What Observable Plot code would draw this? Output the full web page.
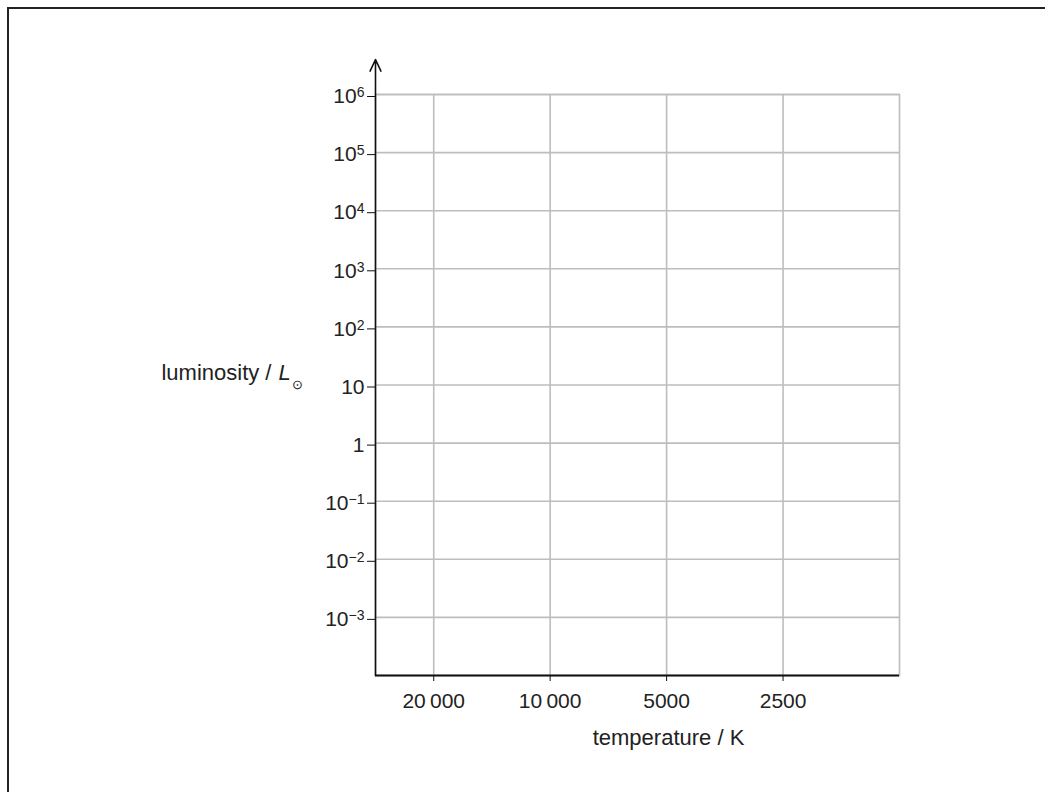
<!DOCTYPE html>
<html>
<head>
<meta charset="utf-8">
<script src="https://cdn.jsdelivr.net/npm/d3@7"></script>
<script src="https://cdn.jsdelivr.net/npm/@observablehq/plot@0.6"></script>
<style>
  html, body { margin: 0; padding: 0; background: #fff; overflow: hidden; }
  #page { position: relative; width: 1045px; height: 792px; }
  #border { position: absolute; left: 7px; top: 7px; right: -20px; bottom: -20px;
            border-left: 2px solid #222; border-top: 2px solid #222; }
  #chart { position: absolute; left: 0; top: 0; }
</style>
</head>
<body>
<div id="page">
  <div id="border"></div>
  <div id="chart"></div>
</div>
<script>
// ---- data ----
const xTicks = [20000, 10000, 5000, 2500];
const xTickLabels = ["20\u2009000", "10\u2009000", "5000", "2500"];
const yTicks = [1e6, 1e5, 1e4, 1e3, 1e2, 10, 1, 0.1, 0.01, 0.001];
const yTickBases = ["10", "10", "10", "10", "10", "10", "1", "10", "10", "10"];
const yTickExponents = ["6", "5", "4", "3", "2", "", "", "\u22121", "\u22122", "\u22123"];
const xDomain = [28284, 1250];      // temperature / K (reversed, log)
const yDomain = [1e-4, 1e6];        // luminosity / L_sun (log)
const yArrowTop = 4e6;              // axis arrow tip
const yLabelAt = 10;
const xLabel = "temperature / K";
const yLabelParts = ["luminosity /", "L", "⊙"];

const grid = "#bdbdbd";
const ink = "#111";
const font = "'Liberation Sans', Arial, Helvetica, sans-serif";

const chart = Plot.plot({
  width: 1045,
  height: 792,
  marginLeft: 375,
  marginRight: 146,
  marginTop: 94,
  marginBottom: 117,
  x: {type: "log", domain: xDomain, axis: null},
  y: {type: "log", domain: yDomain, axis: null},
  style: {fontFamily: font, fontSize: "21px", color: "#222", background: "transparent", overflow: "visible"},
  marks: [
    Plot.ruleX(xTicks, {y1: yDomain[0], y2: yDomain[1], stroke: grid, strokeWidth: 1.6}),
    Plot.ruleY(yTicks, {stroke: grid, strokeWidth: 1.6}),
    Plot.frame({stroke: grid, strokeWidth: 1.6}),
    Plot.ruleY([yDomain[0]], {stroke: ink, strokeWidth: 1.8}),
    Plot.arrow([0], {x1: xDomain[0], x2: xDomain[0], y1: yDomain[0], y2: yArrowTop,
      headLength: 12, headAngle: 50, stroke: ink, strokeWidth: 1.6}),
    Plot.axisX({ticks: xTicks, tickFormat: d => xTickLabels[xTicks.indexOf(d)],
      tickSize: 6, tickPadding: 12, fontSize: 21, stroke: ink, fill: "#222"}),
    Plot.axisY({ticks: yTicks,
      tickFormat: d => { const i = yTicks.indexOf(d); return yTickBases[i] + yTickExponents[i]; },
      tickSize: 8, tickPadding: 3, fontSize: 21, dy: 2, stroke: ink, fill: "#222"}),
    Plot.text([xLabel], {text: d => d, frameAnchor: "bottom", lineAnchor: "middle", dy: 62, dx: 31,
      fontSize: 22, fill: "#222"}),
    Plot.text([yLabelParts[0]], {text: d => d, frameAnchor: "left", lineAnchor: "middle", y: yLabelAt,
      textAnchor: "end", dx: -104, dy: -12, fontSize: 22, fill: "#222"}),
    Plot.text([yLabelParts[1]], {text: d => d, frameAnchor: "left", lineAnchor: "middle", y: yLabelAt,
      textAnchor: "start", dx: -97, dy: -12, fontSize: 22, fontStyle: "italic", fill: "#222"}),
    Plot.text([yLabelParts[2]], {text: d => d, frameAnchor: "left", lineAnchor: "middle", y: yLabelAt,
      textAnchor: "start", dx: -84, dy: 0, fontSize: 13, fill: "#222"})
  ]
});

// render exponents of the y tick labels as raised, smaller text
const yLabelNodes = chart.querySelectorAll('g[aria-label="y-axis tick label"] text');
yLabelNodes.forEach(node => {
  const s = node.textContent;
  const i = yTicks.findIndex((t, k) => yTickBases[k] + yTickExponents[k] === s);
  if (i < 0 || !yTickExponents[i]) return;
  node.textContent = yTickBases[i];
  const sup = document.createElementNS("http://www.w3.org/2000/svg", "tspan");
  sup.setAttribute("dy", "-6");
  sup.setAttribute("font-size", "14");
  sup.textContent = yTickExponents[i];
  node.appendChild(sup);
});

document.getElementById("chart").appendChild(chart);
</script>
</body>
</html>
